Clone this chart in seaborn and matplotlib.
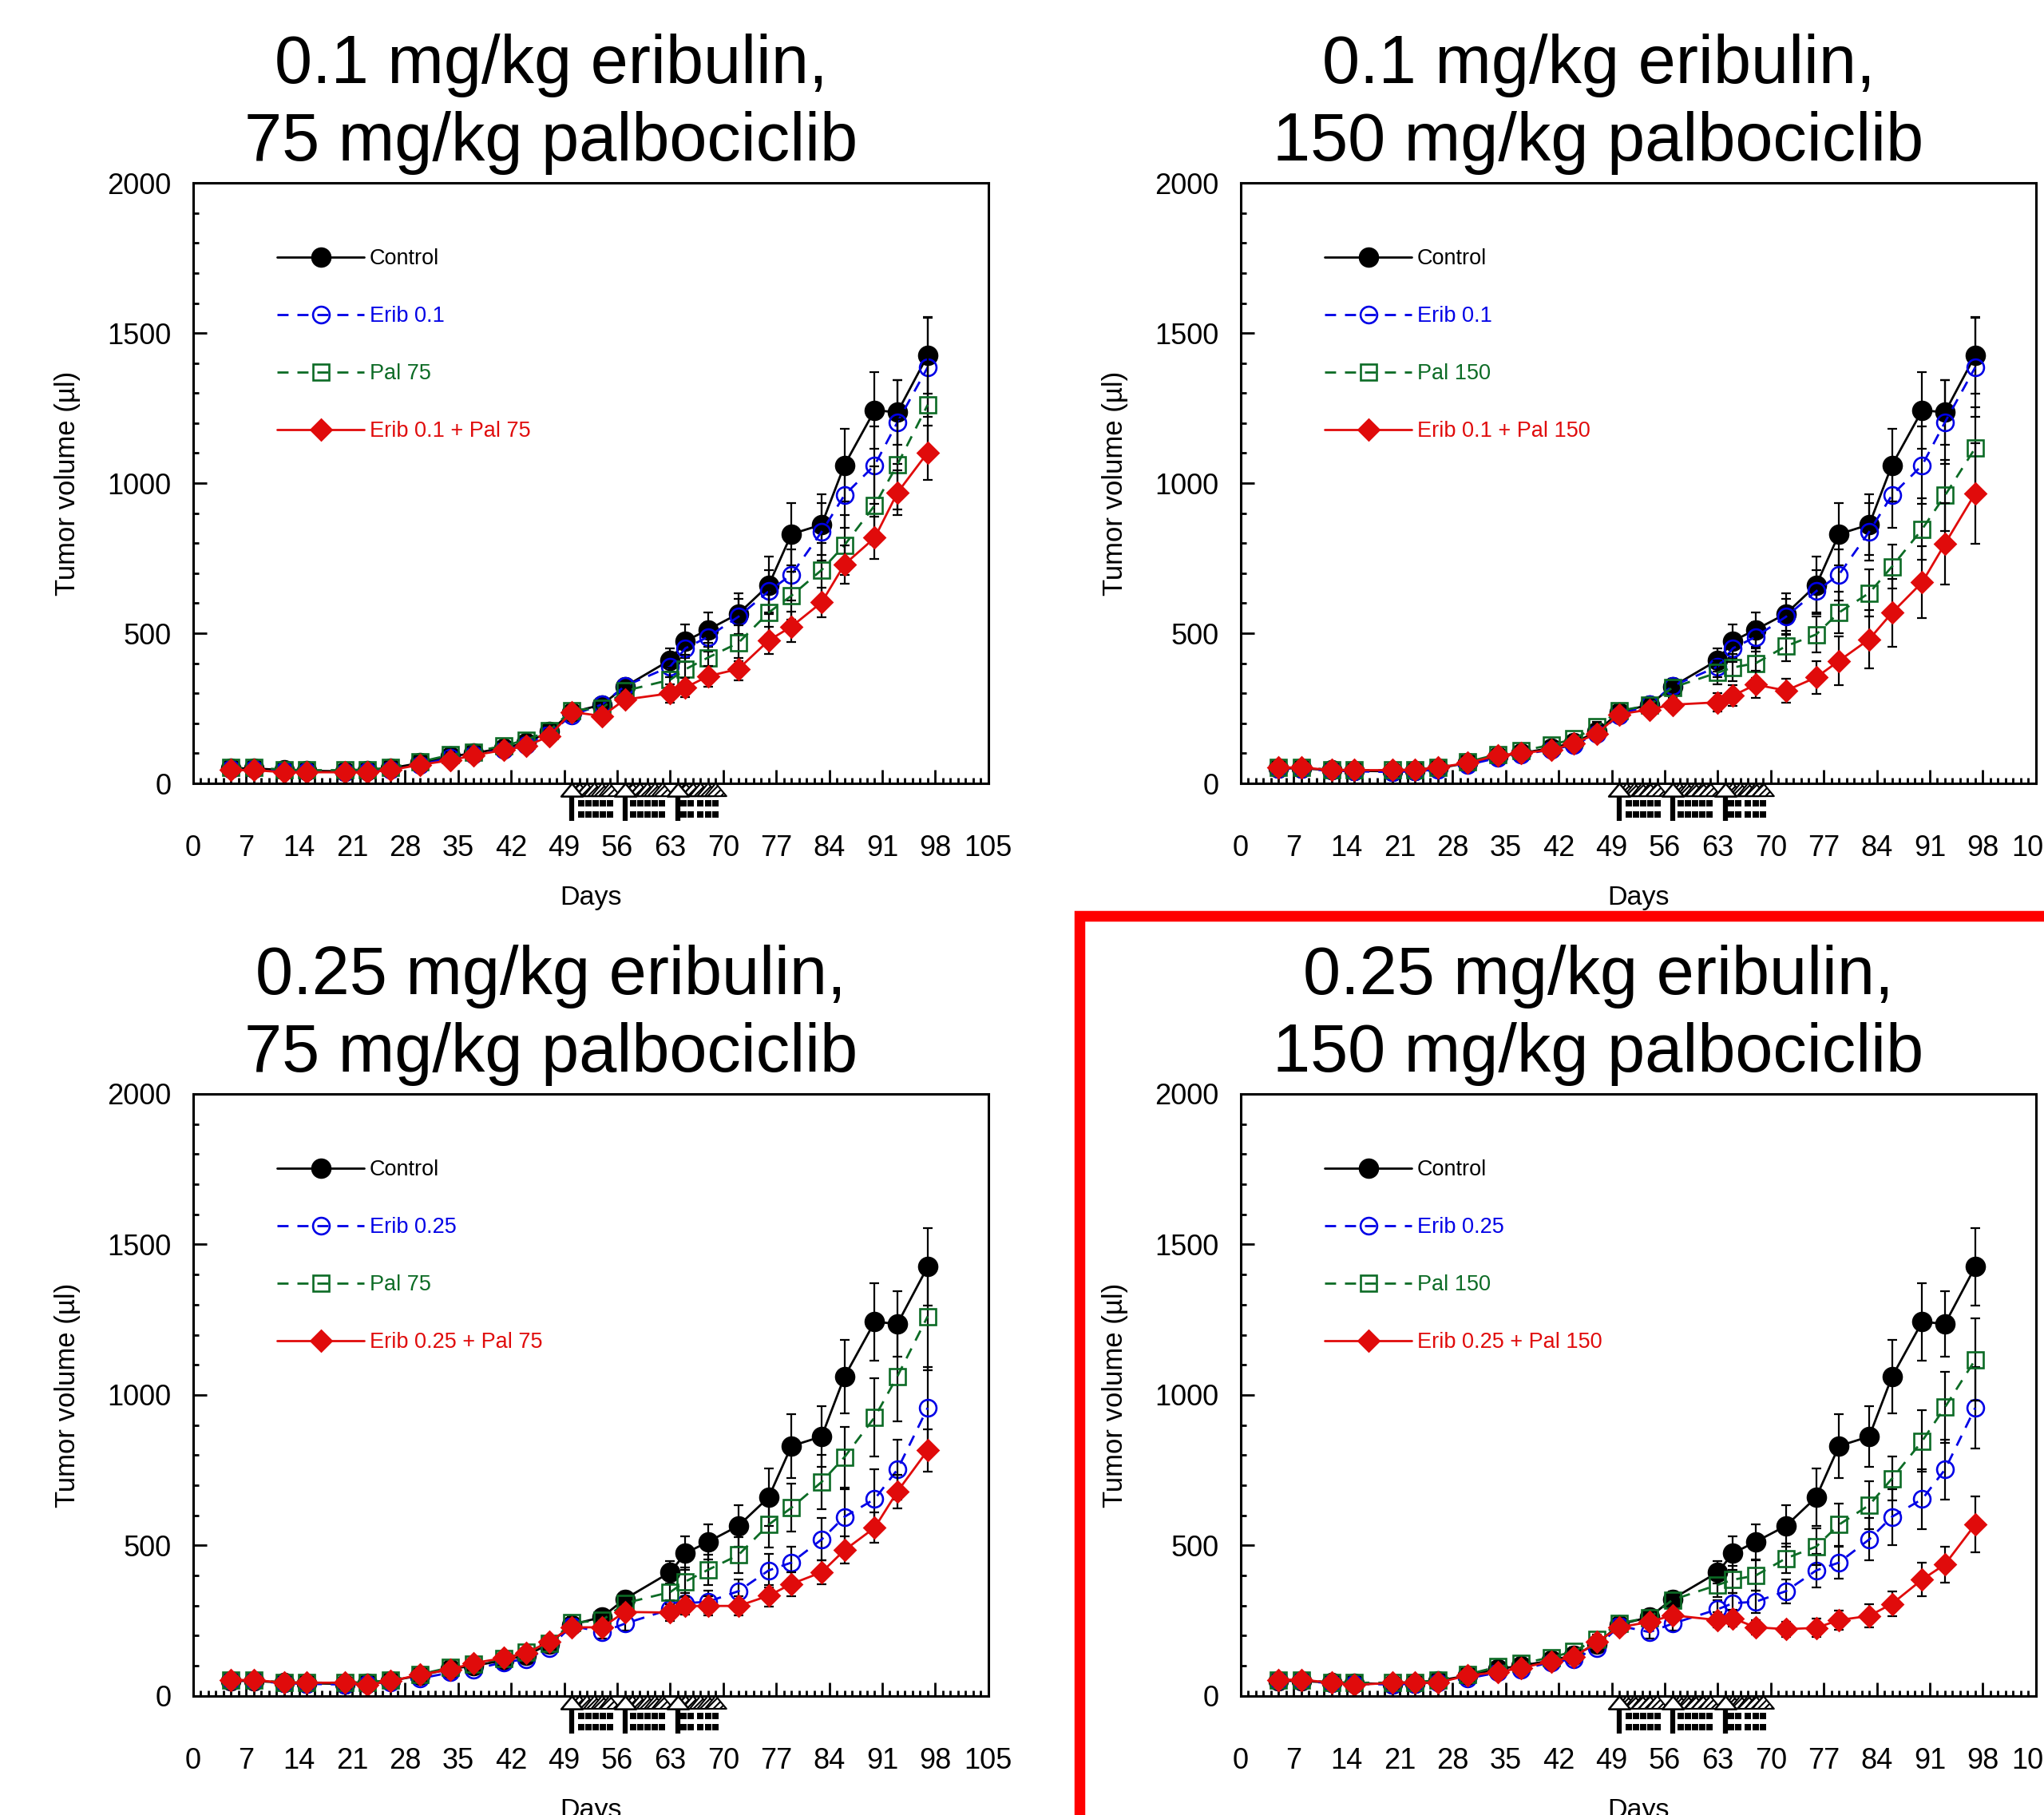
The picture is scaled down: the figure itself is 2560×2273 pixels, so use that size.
import matplotlib
matplotlib.use("Agg")
import matplotlib.pyplot as plt
import matplotlib.patches as mpatches
from matplotlib.path import Path
from matplotlib.ticker import MultipleLocator
import seaborn as sns

# measurement days
days = [5, 8, 12, 15, 20, 23, 26, 30, 34, 37, 41, 44, 47, 50, 54, 57,
        63, 65, 68, 72, 76, 79, 83, 86, 90, 93, 97]

# mean tumor volume (ul) and SEM per group
control = [50, 50, 44, 42, 40, 42, 50, 68, 90, 100, 118, 135, 172, 237, 262, 322,
           411, 474, 512, 565, 660, 830, 862, 1060, 1243, 1236, 1426]
control_sem = [6, 6, 5, 5, 5, 5, 6, 8, 10, 10, 12, 13, 15, 18, 20, 25,
               38, 55, 58, 68, 95, 105, 100, 122, 128, 108, 128]

erib_01 = [48, 48, 42, 40, 38, 40, 46, 62, 85, 96, 112, 128, 165, 227, 263, 324,
           389, 450, 488, 555, 640, 695, 838, 960, 1060, 1203, 1386]
erib_01_sem = [5, 5, 4, 4, 4, 4, 5, 7, 9, 10, 11, 12, 14, 18, 20, 24,
               35, 45, 50, 60, 70, 85, 95, 110, 130, 140, 165]

erib_025 = [50, 50, 42, 40, 38, 40, 46, 58, 78, 88, 112, 122, 160, 233, 212, 240,
            288, 308, 313, 348, 417, 443, 520, 595, 654, 752, 957]
erib_025_sem = [6, 6, 5, 5, 5, 5, 6, 7, 9, 10, 11, 12, 14, 18, 20, 22,
                30, 35, 38, 40, 56, 54, 70, 93, 99, 99, 135]

pal_75 = [52, 52, 46, 44, 44, 46, 52, 72, 95, 105, 125, 145, 175, 243, 251, 308,
          345, 380, 419, 468, 569, 625, 711, 793, 926, 1062, 1261]
pal_75_sem = [6, 6, 5, 5, 5, 5, 6, 8, 10, 11, 12, 14, 16, 20, 22, 26,
              40, 48, 50, 60, 75, 80, 90, 100, 130, 150, 180]

pal_150 = [52, 52, 46, 44, 44, 46, 52, 72, 97, 108, 128, 148, 189, 242, 260, 319,
           369, 386, 400, 457, 496, 569, 634, 722, 847, 959, 1117]
pal_150_sem = [6, 6, 5, 5, 5, 5, 6, 8, 10, 11, 12, 14, 16, 20, 22, 26,
               40, 45, 50, 50, 60, 70, 79, 73, 103, 119, 137]

combo_01_75 = [44, 44, 37, 37, 37, 37, 44, 62, 77, 93, 111, 124, 157, 238, 224, 279,
               300, 319, 357, 381, 476, 522, 603, 729, 818, 968, 1102]
combo_01_75_sem = [5, 5, 4, 4, 4, 4, 5, 7, 8, 9, 10, 12, 14, 18, 20, 22,
                   30, 32, 35, 38, 45, 50, 50, 65, 70, 75, 90]

combo_01_150 = [53, 53, 44, 44, 44, 44, 53, 68, 93, 101, 111, 133, 165, 230, 246, 262,
                270, 292, 329, 309, 353, 408, 480, 568, 670, 798, 966]
combo_01_150_sem = [6, 6, 5, 5, 5, 5, 6, 8, 9, 10, 11, 13, 15, 18, 20, 22,
                    30, 35, 45, 40, 55, 81, 96, 113, 119, 135, 168]

combo_025_75 = [53, 53, 44, 44, 44, 37, 49, 71, 88, 109, 126, 142, 181, 228, 228, 279,
                277, 299, 299, 299, 333, 372, 411, 484, 559, 679, 816]
combo_025_75_sem = [6, 6, 5, 5, 5, 5, 6, 8, 9, 10, 11, 13, 15, 18, 20, 22,
                    28, 30, 32, 32, 35, 40, 40, 45, 50, 55, 70]

combo_025_150 = [54, 54, 44, 36, 44, 44, 44, 68, 79, 93, 115, 129, 179, 228, 246, 268,
                 252, 258, 228, 222, 226, 252, 266, 306, 387, 437, 570]
combo_025_150_sem = [6, 6, 5, 5, 5, 5, 6, 8, 9, 10, 11, 13, 15, 18, 20, 22,
                     25, 28, 25, 25, 30, 32, 38, 40, 55, 60, 92]

# dosing schedule drawn under the x axis
erib_dose_days = [50, 57, 64]
pal_dose_days = [51, 52, 53, 54, 55, 58, 59, 60, 61, 62, 65, 66, 67, 68, 69]
pal_square_days = [51.3, 52.2, 53.1, 54.1, 55.0, 58.1, 59.1, 60.0, 60.9, 61.9,
                   64.7, 65.7, 67.0, 68.0, 69.0]

titles = ["0.1 mg/kg eribulin,\n75 mg/kg palbociclib",
          "0.1 mg/kg eribulin,\n150 mg/kg palbociclib",
          "0.25 mg/kg eribulin,\n75 mg/kg palbociclib",
          "0.25 mg/kg eribulin,\n150 mg/kg palbociclib"]
erib_labels = ["Erib 0.1", "Erib 0.1", "Erib 0.25", "Erib 0.25"]
pal_labels = ["Pal 75", "Pal 150", "Pal 75", "Pal 150"]
combo_labels = ["Erib 0.1 + Pal 75", "Erib 0.1 + Pal 150",
                "Erib 0.25 + Pal 75", "Erib 0.25 + Pal 150"]
erib_series = [(erib_01, erib_01_sem), (erib_01, erib_01_sem),
               (erib_025, erib_025_sem), (erib_025, erib_025_sem)]
pal_series = [(pal_75, pal_75_sem), (pal_150, pal_150_sem),
              (pal_75, pal_75_sem), (pal_150, pal_150_sem)]
combo_series = [(combo_01_75, combo_01_75_sem), (combo_01_150, combo_01_150_sem),
                (combo_025_75, combo_025_75_sem), (combo_025_150, combo_025_150_sem)]

BLACK = "#000000"
BLUE = "#0000e6"
GREEN = "#0c6b25"
RED = "#e00b0b"
DASH = (0, (5, 4))

sns.set_theme(style="ticks")
plt.rcParams['font.family'] = ['Liberation Sans', 'DejaVu Sans']
plt.rcParams['text.color'] = 'black'
plt.rcParams['axes.labelcolor'] = 'black'
plt.rcParams['axes.titlecolor'] = 'black'
plt.rcParams['hatch.linewidth'] = 1.5

fig = plt.figure(figsize=(25.6, 22.73), dpi=100)
boxes = [(0.0945, 0.5684, 0.389, 0.3308), (0.607, 0.5684, 0.389, 0.3308),
         (0.0945, 0.0656, 0.389, 0.3317), (0.607, 0.0656, 0.389, 0.3317)]

tri = Path([(-1, -0.6), (0, 0.6), (1, -0.6), (-1, -0.6)],
           [Path.MOVETO, Path.LINETO, Path.LINETO, Path.CLOSEPOLY])


def draw_series(ax, y, err, color, marker, ms, filled, ls, label):
    ax.errorbar(days, y, yerr=err, fmt='none', ecolor='black', elinewidth=1.6,
                capsize=4.5, capthick=1.6, zorder=2)
    sns.lineplot(x=days, y=y, ax=ax, color=color, marker=marker, markersize=ms,
                 markerfacecolor=color if filled else 'none', markeredgecolor=color,
                 markeredgewidth=1.9, linewidth=2, linestyle=ls, label=label,
                 errorbar=None)


for i, box in enumerate(boxes):
    ax = fig.add_axes(box)
    draw_series(ax, control, control_sem, BLACK, 'o', 16.5, True, '-', 'Control')
    draw_series(ax, *erib_series[i], BLUE, 'o', 15, False, DASH, erib_labels[i])
    draw_series(ax, *pal_series[i], GREEN, 's', 14.5, False, DASH, pal_labels[i])
    draw_series(ax, *combo_series[i], RED, 'D', 13.5, True, '-', combo_labels[i])

    ax.set_xlim(0, 105)
    ax.set_ylim(0, 2000)
    ax.xaxis.set_major_locator(MultipleLocator(7))
    ax.xaxis.set_minor_locator(MultipleLocator(1))
    ax.yaxis.set_major_locator(MultipleLocator(500))
    ax.yaxis.set_minor_locator(MultipleLocator(100))
    ax.tick_params(which='both', direction='in', top=False, right=False,
                   width=2, color='black', labelcolor='black')
    ax.tick_params(which='major', length=12, labelsize=26)
    ax.tick_params(which='minor', length=5)
    ax.tick_params(axis='x', which='major', pad=46)
    ax.tick_params(axis='y', which='major', pad=20)
    for sp in ax.spines.values():
        sp.set_linewidth(2.2)
        sp.set_color('black')
    ax.grid(False)

    ax.set_xlabel('Days', fontsize=24.5, labelpad=21)
    ax.set_ylabel('Tumor volume (µl)', fontsize=25, labelpad=24)
    ax.set_title(titles[i], fontsize=61, pad=20, x=0.45, linespacing=1.28)

    ax.legend(loc='upper left', bbox_to_anchor=(0.106, 0.891), frameon=False,
              fontsize=19.5, handlelength=4.0, handletextpad=0.25, labelspacing=1.7,
              borderpad=0, borderaxespad=0, labelcolor='linecolor', numpoints=1)

    # dosing schedule below the axis
    trans = ax.get_xaxis_transform()
    ax.scatter(pal_dose_days, [-0.0106] * len(pal_dose_days), marker=tri, s=376,
               facecolor='white', edgecolor='black', hatch='////', linewidth=1.5,
               transform=trans, clip_on=False, zorder=5)
    ax.scatter(erib_dose_days, [-0.0106] * len(erib_dose_days), marker=tri, s=376,
               facecolor='white', edgecolor='black', linewidth=1.8,
               transform=trans, clip_on=False, zorder=6)
    ax.vlines(erib_dose_days, -0.023, -0.062, transform=trans, colors='black',
              linewidth=4.5, clip_on=False)
    for yy in (-0.033, -0.052):
        ax.scatter(pal_square_days, [yy] * len(pal_square_days), marker='s', s=30,
                   color='black', linewidth=0, transform=trans, clip_on=False)

# red frame around the last panel
fig.add_artist(mpatches.Rectangle((1351.5 / 2560, -0.1), 2, 0.1 + (1 - 1147 / 2273),
                                  transform=fig.transFigure, fill=False,
                                  edgecolor='#ff0000', linewidth=9.7, zorder=20))

fig.savefig('out.png', dpi=100)
